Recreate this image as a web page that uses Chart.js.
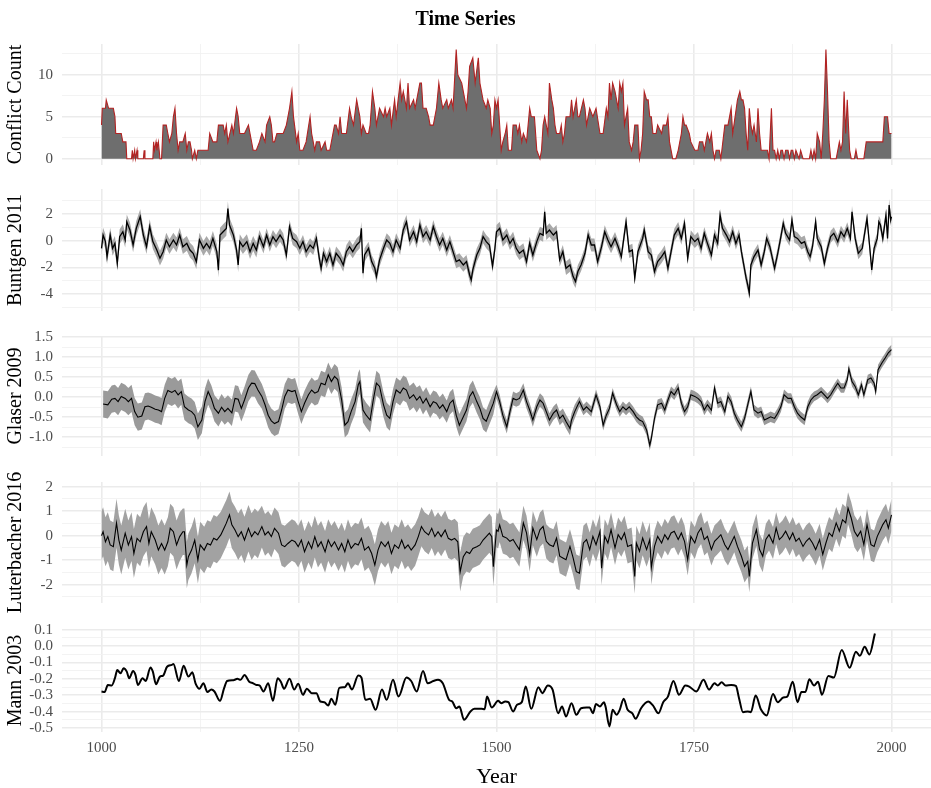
<!DOCTYPE html>
<html>
<head>
<meta charset="utf-8">
<script src="https://cdn.jsdelivr.net/npm/chart.js@4"></script>
<style>
	body { margin: 0; background: #fff; }
	#wrap { position: relative; width: 931px; height: 788px; }
	canvas { position: absolute; left: 0; }
</style>
</head>
<body>
<div id="wrap">
	<canvas id="conflict" width="931" height="175" style="top:0px"></canvas>
	<canvas id="buntgen" width="931" height="142" style="top:179px"></canvas>
	<canvas id="glaser" width="931" height="140" style="top:326px"></canvas>
	<canvas id="luterbacher" width="931" height="141" style="top:472px"></canvas>
	<canvas id="mann" width="931" height="169" style="top:619px"></canvas>
</div>
<script>
// [year, value] pairs
const conflict = [[1000,4],[1001,6],[1005,6],[1006,7],[1009,6],[1015,6],[1017,5],[1018,3],[1025,3],[1027,2],[1031,2],[1032,0],[1038,0],[1039,1],[1040,0],[1042,1],[1043,0],[1045,1],[1046,0],[1053,0],[1054,1],[1055,0],[1065,0],[1066,2],[1067,1],[1069,2],[1070,1],[1072,2],[1074,0],[1076,0],[1078,4],[1082,4],[1084,3],[1086,2],[1089,3],[1091,5],[1093,6],[1095,3],[1097,1],[1099,2],[1103,2],[1106,3],[1108,1],[1110,2],[1112,2],[1114,1],[1115,0],[1118,1],[1120,0],[1122,1],[1135,1],[1137,3],[1141,2],[1146,2],[1148,4],[1154,4],[1156,3],[1158,4],[1160,2],[1165,4],[1167,3],[1171,6],[1173,5],[1175,3],[1181,3],[1186,4],[1188,3],[1192,1],[1196,1],[1200,2],[1203,3],[1207,2],[1209,4],[1213,5],[1215,4],[1217,2],[1219,2],[1222,3],[1230,3],[1234,4],[1238,6],[1241,8],[1243,5],[1247,2],[1249,3],[1251,1],[1255,1],[1259,2],[1264,5],[1266,3],[1268,2],[1270,1],[1272,2],[1276,2],[1278,1],[1283,2],[1285,1],[1289,1],[1291,2],[1295,4],[1297,4],[1300,3],[1302,5],[1304,3],[1310,3],[1314,6],[1316,5],[1319,4],[1323,7],[1325,6],[1327,5],[1329,3],[1331,4],[1335,3],[1338,3],[1340,4],[1343,8],[1346,6],[1348,4],[1352,6],[1357,5],[1359,6],[1361,5],[1365,6],[1367,4],[1371,7],[1373,5],[1378,9],[1380,7],[1382,8],[1386,6],[1388,9],[1390,6],[1395,7],[1397,6],[1403,9],[1405,9],[1407,6],[1411,6],[1414,5],[1416,4],[1420,4],[1424,6],[1427,9],[1430,7],[1432,6],[1437,7],[1439,6],[1443,7],[1445,6],[1449,13],[1451,10],[1456,9],[1460,7],[1462,6],[1464,8],[1466,11],[1470,12],[1473,9],[1477,12],[1479,9],[1483,7],[1487,6],[1489,7],[1492,6],[1494,3],[1496,4],[1498,7],[1500,6],[1502,7],[1504,4],[1506,1],[1508,2],[1511,3],[1513,4],[1515,1],[1519,1],[1521,4],[1525,4],[1527,3],[1529,4],[1532,2],[1534,3],[1538,2],[1542,6],[1544,5],[1548,5],[1551,1],[1555,0],[1557,1],[1559,4],[1561,5],[1565,3],[1567,9],[1570,7],[1572,6],[1574,4],[1576,3],[1580,3],[1582,4],[1584,2],[1586,3],[1588,5],[1593,5],[1595,7],[1597,5],[1601,7],[1603,5],[1605,5],[1610,7],[1612,6],[1614,4],[1618,6],[1622,5],[1626,6],[1631,3],[1635,3],[1639,6],[1641,5],[1643,9],[1645,7],[1647,9],[1650,8],[1652,7],[1654,6],[1656,9],[1658,8],[1660,9],[1662,4],[1666,6],[1668,2],[1671,1],[1673,2],[1675,4],[1679,4],[1681,0],[1683,1],[1685,3],[1687,8],[1690,7],[1692,7],[1694,5],[1696,5],[1698,3],[1702,3],[1704,4],[1709,3],[1711,4],[1715,4],[1717,5],[1719,2],[1721,1],[1723,0],[1727,0],[1730,1],[1732,2],[1734,3],[1736,5],[1738,4],[1740,4],[1744,3],[1746,2],[1751,1],[1755,1],[1757,2],[1761,2],[1763,1],[1767,3],[1770,2],[1772,3],[1774,1],[1776,0],[1778,1],[1782,1],[1784,0],[1789,4],[1793,4],[1797,6],[1799,3],[1805,7],[1808,8],[1810,7],[1812,7],[1814,6],[1816,3],[1818,1],[1820,6],[1822,4],[1824,3],[1826,4],[1829,2],[1831,6],[1833,3],[1835,1],[1843,1],[1845,0],[1848,6],[1850,1],[1852,1],[1854,0],[1856,1],[1858,0],[1860,1],[1862,1],[1864,0],[1866,1],[1869,1],[1871,0],[1873,1],[1875,1],[1877,0],[1879,1],[1883,0],[1885,1],[1888,0],[1896,0],[1898,1],[1900,0],[1902,1],[1904,0],[1906,3],[1909,2],[1911,0],[1913,3],[1915,7],[1917,13],[1919,8],[1921,2],[1923,0],[1930,0],[1932,1],[1934,2],[1936,1],[1938,2],[1940,8],[1942,3],[1944,7],[1947,1],[1949,0],[1953,0],[1955,1],[1957,0],[1965,0],[1968,2],[1989,2],[1991,5],[1995,5],[1997,3],[2000,3]]

const buntgen = [[1000,-0.57],[1002,0.42],[1005,-0.07],[1007,-1.2],[1011,0.42],[1014,-0.57],[1017,-0.2],[1020,-1.7],[1023,0.3],[1027,0.67],[1030,0.05],[1032,1.41],[1036,0.8],[1040,-0.32],[1044,0.92],[1049,1.8],[1053,0.42],[1057,-0.45],[1061,1.05],[1065,-0.07],[1070,-0.7],[1074,-1.31],[1078,-0.82],[1082,0.05],[1086,-0.45],[1091,0.05],[1095,-0.32],[1099,0.42],[1103,-0.45],[1108,-0.2],[1112,-0.7],[1116,-0.94],[1120,-1.56],[1124,0.05],[1129,-0.57],[1133,-0.2],[1137,-0.57],[1141,0.17],[1146,-0.82],[1148,-2.2],[1150,0.42],[1154,0.67],[1158,0.92],[1160,2.4],[1162,1.17],[1167,0.42],[1171,-0.7],[1173,-1.81],[1175,-0.07],[1179,-0.45],[1184,-0.07],[1188,-0.82],[1192,-0.2],[1196,-0.7],[1200,0.3],[1205,-0.45],[1209,0.42],[1213,-0.32],[1217,0.3],[1221,-0.07],[1226,0.42],[1230,0.05],[1234,-1.07],[1238,1.05],[1242,0.17],[1247,-0.07],[1251,-0.57],[1255,-0.07],[1259,-0.82],[1264,-0.32],[1268,-0.57],[1272,0.17],[1276,-1.43],[1278,-2.06],[1281,-0.94],[1285,-1.56],[1289,-0.94],[1293,-1.81],[1297,-0.94],[1302,-1.31],[1306,-1.81],[1310,-0.82],[1314,-0.45],[1318,-0.82],[1323,-0.32],[1327,-0.07],[1329,0.92],[1331,-2.43],[1333,-1.07],[1338,-0.57],[1342,-1.56],[1346,-2.06],[1348,-2.68],[1352,-1.43],[1357,-0.57],[1361,0.05],[1365,-0.2],[1369,-0.82],[1373,0.05],[1378,-0.57],[1382,0.8],[1386,1.41],[1390,0.05],[1395,0.67],[1399,-0.07],[1403,1.17],[1407,0.3],[1411,0.67],[1416,0.05],[1420,1.05],[1424,0.3],[1428,-0.32],[1432,0.17],[1437,-0.7],[1441,-0.07],[1445,-0.82],[1449,-1.56],[1453,-1.43],[1458,-1.81],[1462,-1.56],[1466,-2.56],[1468,-2.93],[1470,-2.18],[1475,-1.07],[1479,-0.57],[1483,0.3],[1487,-0.07],[1491,-0.32],[1495,-1.9],[1498,-0.57],[1500,0.67],[1504,0.92],[1508,0.05],[1513,0.42],[1517,-0.2],[1521,0.17],[1525,-0.57],[1529,-0.94],[1534,-0.7],[1538,-1.56],[1542,-0.2],[1546,-1.07],[1551,-0.07],[1555,0.55],[1559,0.42],[1561,2.16],[1563,0.55],[1567,0.8],[1572,0.42],[1576,0.67],[1580,-1.43],[1584,-0.82],[1588,-2.06],[1593,-1.81],[1597,-2.68],[1600,-3.05],[1603,-2.3],[1607,-1.81],[1612,-0.94],[1616,0.42],[1620,-0.32],[1624,-0.32],[1628,-1.56],[1633,-0.45],[1637,0.67],[1641,0.05],[1645,-0.45],[1650,0.17],[1654,-0.45],[1658,-1.19],[1662,0.55],[1664,1.41],[1668,-0.82],[1672,-0.7],[1675,-2.8],[1679,-0.82],[1685,0.17],[1687,0.8],[1692,-0.82],[1696,-1.07],[1700,-2.3],[1704,-1.56],[1709,-1.19],[1713,-0.82],[1717,-2.06],[1721,-0.82],[1725,0.42],[1730,0.92],[1734,0.17],[1738,1.29],[1742,-1.31],[1746,0.3],[1751,-0.07],[1755,0.17],[1759,-0.57],[1763,0.55],[1767,-0.2],[1772,-1.07],[1776,0.42],[1780,-0.2],[1783,1.91],[1786,0.92],[1791,0.42],[1795,-0.07],[1799,0.67],[1803,-0.2],[1807,0.42],[1810,-0.82],[1813,-1.81],[1816,-2.8],[1818,-3.3],[1820,-3.92],[1822,-1.81],[1826,-1.19],[1831,-0.7],[1835,-1.81],[1839,-0.82],[1842,0.17],[1846,-0.45],[1852,-2.06],[1856,-0.94],[1860,0.3],[1863,1.29],[1866,0.55],[1871,0.05],[1874,1.54],[1877,0.3],[1881,0.17],[1886,-0.2],[1890,-0.07],[1894,-0.82],[1897,-1.19],[1900,-0.45],[1904,1.41],[1906,0.17],[1911,-0.45],[1915,-1.7],[1919,-0.57],[1923,0.3],[1927,0.55],[1932,-0.07],[1936,0.67],[1940,0.3],[1944,0.92],[1948,0.17],[1950,2.16],[1954,0.17],[1958,-0.94],[1963,-0.57],[1969,1.66],[1972,-0.2],[1975,-2.18],[1978,-0.57],[1982,0.17],[1984,1.41],[1986,1.17],[1989,0.17],[1993,1.91],[1995,0.17],[1997,2.66],[1999,1.54],[2000,1.79]]

const glaser = [[1002,-0.17],[1008,-0.19],[1013,-0.05],[1017,-0.03],[1021,-0.11],[1025,0.02],[1030,-0.03],[1034,-0.11],[1038,-0.03],[1042,-0.36],[1046,-0.5],[1051,-0.47],[1055,-0.24],[1059,-0.22],[1063,-0.25],[1068,-0.3],[1072,-0.32],[1076,-0.36],[1080,-0.03],[1084,0.17],[1089,0.12],[1093,0.17],[1097,0.06],[1101,0.14],[1105,-0.24],[1110,-0.32],[1114,-0.36],[1118,-0.45],[1122,-0.74],[1127,-0.57],[1131,-0.11],[1135,0.14],[1139,-0.03],[1143,-0.28],[1148,-0.4],[1152,-0.25],[1156,-0.36],[1160,-0.28],[1165,-0.39],[1169,-0.03],[1173,-0.05],[1177,-0.28],[1181,-0.07],[1186,0.23],[1190,0.35],[1194,0.34],[1198,0.18],[1203,0.02],[1207,-0.19],[1211,-0.45],[1215,-0.59],[1219,-0.66],[1224,-0.61],[1228,-0.32],[1232,0.02],[1236,0.18],[1241,0.14],[1245,0.17],[1249,-0.11],[1253,-0.36],[1257,-0.15],[1262,0.06],[1266,0.18],[1270,0.1],[1274,0.14],[1278,0.35],[1283,0.31],[1287,0.56],[1291,0.39],[1295,0.52],[1299,0.44],[1304,-0.07],[1308,-0.7],[1312,-0.61],[1316,-0.36],[1321,-0.11],[1325,0.31],[1327,0.39],[1331,-0.32],[1335,-0.45],[1340,-0.57],[1344,-0.07],[1348,0.35],[1352,0.27],[1357,-0.19],[1361,-0.45],[1365,-0.53],[1369,-0.11],[1373,0.18],[1378,0.1],[1382,0.23],[1386,0.18],[1390,-0.03],[1395,0.06],[1399,-0.07],[1403,0.02],[1407,-0.15],[1411,-0.03],[1416,-0.24],[1420,-0.11],[1424,-0.15],[1428,-0.28],[1432,-0.19],[1437,-0.36],[1441,-0.15],[1445,-0.07],[1449,-0.45],[1453,-0.7],[1458,-0.49],[1462,-0.32],[1466,0.02],[1470,0.14],[1475,-0.11],[1479,-0.28],[1483,-0.53],[1487,-0.6],[1491,-0.4],[1496,-0.15],[1500,0.14],[1504,-0.11],[1508,-0.45],[1513,-0.74],[1517,-0.36],[1521,-0.03],[1525,-0.07],[1529,-0.03],[1534,0.18],[1538,-0.11],[1542,-0.32],[1546,-0.57],[1551,-0.24],[1555,-0.07],[1559,-0.15],[1563,-0.36],[1567,-0.57],[1572,-0.4],[1576,-0.32],[1580,-0.53],[1584,-0.45],[1588,-0.61],[1593,-0.78],[1595,-0.57],[1599,-0.36],[1605,-0.11],[1610,-0.32],[1614,-0.24],[1620,-0.36],[1626,0.06],[1631,-0.24],[1635,-0.7],[1639,-0.45],[1643,-0.28],[1647,0.1],[1652,-0.19],[1656,-0.36],[1660,-0.24],[1664,-0.32],[1668,-0.24],[1673,-0.36],[1677,-0.49],[1681,-0.57],[1685,-0.61],[1690,-0.82],[1694,-1.2],[1696,-1.03],[1700,-0.53],[1704,-0.19],[1709,-0.15],[1713,-0.32],[1717,-0.07],[1721,0.14],[1725,0.06],[1730,0.23],[1734,-0.15],[1738,-0.36],[1742,-0.24],[1746,0.06],[1751,0.02],[1755,-0.03],[1759,-0.11],[1763,-0.32],[1767,-0.19],[1772,-0.32],[1776,0.23],[1780,-0.15],[1784,-0.11],[1789,-0.36],[1793,0.02],[1797,-0.11],[1801,-0.4],[1805,-0.57],[1810,-0.74],[1814,-0.53],[1818,-0.19],[1822,0.14],[1826,-0.32],[1831,-0.4],[1835,-0.36],[1839,-0.57],[1843,-0.53],[1847,-0.49],[1852,-0.53],[1856,-0.4],[1860,-0.24],[1864,0.06],[1869,-0.03],[1873,-0.03],[1877,-0.24],[1881,-0.4],[1885,-0.49],[1890,-0.57],[1894,-0.24],[1898,-0.07],[1902,0.02],[1906,0.06],[1911,0.14],[1915,0.06],[1919,-0.03],[1923,0.06],[1928,0.23],[1932,0.35],[1936,0.23],[1940,0.23],[1944,0.44],[1946,0.71],[1950,0.39],[1954,0.27],[1958,0.06],[1962,0.31],[1965,0.06],[1970,0.44],[1974,0.48],[1978,0.35],[1980,0.14],[1983,0.69],[1988,0.86],[1992,0.98],[1996,1.11],[2000,1.19]]

const luterbacher = [[1000,0],[1002,0.16],[1005,-0.25],[1008,-0.04],[1011,-0.38],[1015,-0.45],[1019,0.51],[1022,-0.18],[1025,-0.59],[1030,0.1],[1034,-0.38],[1038,-0.04],[1041,-0.73],[1045,-0.11],[1049,-0.25],[1053,0.16],[1057,0.37],[1060,-0.32],[1063,0.16],[1068,-0.18],[1072,-0.59],[1076,-0.32],[1080,-0.59],[1084,-0.25],[1087,0.3],[1091,0.16],[1095,-0.38],[1099,-0.04],[1103,0.16],[1105,0.16],[1108,-1.2],[1110,-0.86],[1114,-0.59],[1118,-0.18],[1122,-1.0],[1125,-0.38],[1130,-0.59],[1134,-0.32],[1138,-0.38],[1142,-0.11],[1146,-0.18],[1151,0.03],[1155,0.3],[1158,0.51],[1162,0.85],[1165,0.44],[1169,0.23],[1173,-0.04],[1177,0.16],[1181,-0.18],[1186,0.3],[1190,-0.04],[1194,0.16],[1198,0.03],[1203,0.37],[1207,0.03],[1211,0.16],[1215,-0.04],[1219,0.3],[1224,0.1],[1228,-0.38],[1232,-0.45],[1236,-0.32],[1241,-0.18],[1245,-0.25],[1249,-0.45],[1253,-0.18],[1257,-0.66],[1262,-0.25],[1266,-0.52],[1270,-0.04],[1274,-0.45],[1278,-0.25],[1283,-0.66],[1287,-0.18],[1291,-0.45],[1295,-0.25],[1300,-0.59],[1304,-0.32],[1308,-0.66],[1312,-0.18],[1316,-0.52],[1321,-0.32],[1325,-0.38],[1329,-0.11],[1333,-0.59],[1338,-0.45],[1342,-0.73],[1346,-1.2],[1350,-0.59],[1354,-0.25],[1359,-0.45],[1363,-0.25],[1367,-0.73],[1371,-0.38],[1376,-0.52],[1380,-0.18],[1384,-0.52],[1388,-0.38],[1392,-0.59],[1397,-0.38],[1401,-0.04],[1405,0.37],[1409,0.16],[1414,0.03],[1418,0.3],[1422,-0.04],[1426,0.16],[1430,-0.04],[1435,0.23],[1439,-0.11],[1443,-0.18],[1447,-0.11],[1451,-0.25],[1454,-1.48],[1458,-0.86],[1462,-0.66],[1466,-0.73],[1470,-0.52],[1475,-0.45],[1479,-0.38],[1483,-0.18],[1487,-0.04],[1491,0.1],[1494,-0.04],[1496,-1.27],[1500,0.23],[1502,0.18],[1504,0.44],[1508,-0.03],[1513,-0.1],[1517,-0.23],[1521,-0.16],[1525,-0.37],[1529,-0.57],[1534,0.52],[1538,0.11],[1542,-0.77],[1546,0.31],[1551,-0.16],[1555,0.24],[1559,0.38],[1563,-0.23],[1567,-0.37],[1572,-0.44],[1576,-0.1],[1580,-0.84],[1584,-0.91],[1588,-0.98],[1593,-0.44],[1597,-0.91],[1601,-1.47],[1605,-1.53],[1610,-0.3],[1614,-0.16],[1618,-0.57],[1622,-0.03],[1626,-0.37],[1631,0.18],[1633,-1.33],[1637,-0.03],[1641,-0.3],[1645,0.24],[1650,-0.5],[1654,0.04],[1658,-0.16],[1662,0.11],[1666,-0.44],[1671,-0.37],[1675,-1.67],[1677,-0.3],[1681,-0.64],[1685,-0.1],[1690,-0.57],[1694,-0.16],[1696,-1.3],[1700,-0.44],[1704,-0.03],[1709,-0.3],[1713,0.04],[1717,-0.16],[1721,0.11],[1725,0.18],[1730,-0.16],[1734,0.11],[1738,-0.23],[1742,-0.98],[1746,-0.03],[1751,-0.3],[1755,0.11],[1759,0.31],[1763,-0.16],[1767,-0.03],[1772,-0.57],[1776,-0.23],[1780,-0.1],[1784,0.04],[1789,-0.37],[1793,-0.57],[1797,-0.3],[1801,-0.03],[1805,-0.44],[1810,-0.84],[1814,-1.26],[1818,-1.05],[1820,-1.67],[1824,-0.3],[1829,0.24],[1833,-0.57],[1837,-0.84],[1841,-0.16],[1845,0.04],[1850,-0.3],[1854,0.31],[1858,-0.16],[1862,-0.03],[1866,0.18],[1871,-0.16],[1875,0.11],[1879,-0.23],[1883,-0.1],[1888,-0.44],[1892,-0.23],[1896,-0.1],[1900,-0.3],[1904,-0.57],[1909,-0.16],[1913,-0.77],[1917,-0.3],[1921,0.11],[1925,-0.03],[1930,0.52],[1934,0.18],[1938,0.65],[1942,0.52],[1945,1.12],[1949,0.72],[1953,0.18],[1957,-0.03],[1961,0.18],[1965,-0.37],[1969,0.45],[1974,-0.37],[1978,-0.44],[1982,-0.03],[1986,0.24],[1989,0.45],[1993,0.65],[1996,0.31],[2000,0.85]]

const mann = [[1000,-0.277],[1004,-0.28],[1008,-0.237],[1013,-0.24],[1017,-0.196],[1020,-0.146],[1024,-0.166],[1028,-0.136],[1032,-0.156],[1035,-0.196],[1040,-0.152],[1043,-0.176],[1046,-0.237],[1052,-0.196],[1056,-0.213],[1062,-0.13],[1065,-0.156],[1069,-0.233],[1074,-0.186],[1078,-0.18],[1083,-0.126],[1089,-0.115],[1091,-0.11],[1098,-0.213],[1104,-0.12],[1110,-0.186],[1115,-0.16],[1119,-0.227],[1124,-0.26],[1129,-0.227],[1134,-0.28],[1139,-0.265],[1143,-0.277],[1150,-0.334],[1155,-0.26],[1159,-0.213],[1167,-0.208],[1172,-0.2],[1176,-0.206],[1181,-0.176],[1187,-0.217],[1192,-0.227],[1196,-0.237],[1200,-0.24],[1205,-0.277],[1211,-0.227],[1217,-0.334],[1223,-0.196],[1227,-0.217],[1231,-0.26],[1238,-0.2],[1244,-0.265],[1249,-0.23],[1255,-0.297],[1260,-0.26],[1266,-0.287],[1272,-0.287],[1277,-0.338],[1282,-0.342],[1287,-0.362],[1291,-0.322],[1296,-0.358],[1301,-0.255],[1308,-0.251],[1312,-0.227],[1317,-0.265],[1325,-0.18],[1329,-0.192],[1334,-0.328],[1340,-0.322],[1347,-0.389],[1355,-0.265],[1361,-0.328],[1369,-0.206],[1376,-0.308],[1386,-0.192],[1392,-0.213],[1399,-0.277],[1407,-0.152],[1413,-0.227],[1420,-0.213],[1426,-0.206],[1432,-0.227],[1440,-0.328],[1444,-0.338],[1449,-0.379],[1453,-0.369],[1459,-0.45],[1467,-0.399],[1472,-0.383],[1481,-0.383],[1485,-0.385],[1488,-0.308],[1494,-0.375],[1502,-0.334],[1506,-0.348],[1511,-0.338],[1515,-0.342],[1521,-0.399],[1526,-0.358],[1532,-0.342],[1537,-0.247],[1544,-0.383],[1553,-0.251],[1558,-0.287],[1565,-0.24],[1571,-0.265],[1578,-0.41],[1583,-0.369],[1588,-0.43],[1595,-0.348],[1601,-0.419],[1607,-0.379],[1614,-0.375],[1618,-0.375],[1622,-0.41],[1626,-0.354],[1631,-0.369],[1636,-0.342],[1638,-0.369],[1643,-0.49],[1647,-0.389],[1652,-0.419],[1656,-0.389],[1661,-0.322],[1666,-0.389],[1672,-0.41],[1676,-0.443],[1683,-0.379],[1692,-0.338],[1698,-0.362],[1705,-0.41],[1711,-0.342],[1717,-0.308],[1724,-0.213],[1731,-0.297],[1739,-0.241],[1744,-0.247],[1753,-0.277],[1762,-0.206],[1769,-0.265],[1776,-0.227],[1780,-0.241],[1785,-0.221],[1790,-0.241],[1797,-0.237],[1803,-0.243],[1807,-0.318],[1812,-0.403],[1818,-0.399],[1822,-0.403],[1828,-0.302],[1835,-0.389],[1842,-0.423],[1850,-0.293],[1856,-0.342],[1863,-0.314],[1868,-0.308],[1875,-0.217],[1881,-0.342],[1886,-0.28],[1891,-0.28],[1896,-0.202],[1902,-0.241],[1907,-0.217],[1912,-0.297],[1920,-0.182],[1927,-0.192],[1937,-0.024],[1947,-0.132],[1955,-0.034],[1960,-0.059],[1966,-0.004],[1972,-0.051],[1979,0.077]]

// half-width of the grey uncertainty band, one value per century (1000s ... 2000)
const buntgenSpread = [0.55, 0.55, 0.5, 0.5, 0.5, 0.5, 0.48, 0.48, 0.45, 0.45, 0.45]
const glaserSpread = [0.34, 0.33, 0.31, 0.31, 0.28, 0.17, 0.13, 0.13, 0.13, 0.12, 0.12]
const luterbacherSpread = [1.0, 0.95, 0.85, 0.85, 0.8, 0.7, 0.7, 0.65, 0.65, 0.65, 0.65]

const xMajor = [1000, 1250, 1500, 1750, 2000]
const xMinor = [1125, 1375, 1625, 1875]

const serif = '"Liberation Serif", "Times New Roman", serif'
const tickGrey = '#4d4d4d'

const toPoints = (pairs) => pairs.map(([x, y]) => ({ x, y }))
const band = (pairs, spread, sign) =>
	pairs.map(([x, y]) => ({ x, y: y + sign * spread[Math.floor((x - 1000) / 100)] }))

const isMultiple = (v, step) => Math.abs(v / step - Math.round(v / step)) < 1e-6

const yGrid = (min, max, step) => {
	const out = []
	for (let i = Math.ceil(min / step - 1e-9); i * step <= max + 1e-9; i++) {
		out.push({ value: +(i * step).toFixed(6) })
	}
	return out
}

const panel = (id, opts) => {
	const { datasets, title, yTitle, min, max, major, decimals, showX, xHeight, pad } = opts
	return new Chart(document.getElementById(id), {
		type: 'line',
		data: { datasets },
		options: {
			responsive: false,
			animation: false,
			devicePixelRatio: 1,
			layout: { padding: pad },
			elements: { point: { radius: 0 } },
			plugins: {
				legend: { display: false },
				tooltip: { enabled: false },
				title: {
					display: !!title,
					text: title,
					color: '#000',
					font: { family: serif, size: 20, weight: 'bold' },
					padding: { top: 8, bottom: 12 },
				},
			},
			scales: {
				x: {
					type: 'linear',
					min: 950,
					max: 2050,
					afterBuildTicks: (axis) => {
						axis.ticks = [...xMajor, ...xMinor].sort((a, b) => a - b).map((v) => ({ value: v }))
					},
					afterFit: (axis) => {
						axis.height = xHeight
						axis.paddingLeft = 0
						axis.paddingRight = 0
					},
					ticks: {
						display: showX,
						autoSkip: false,
						maxRotation: 0,
						padding: 7,
						color: tickGrey,
						font: { family: serif, size: 15 },
						callback: (v) => (xMajor.includes(v) ? String(v) : ''),
					},
					grid: {
						drawTicks: false,
						color: (c) => (xMajor.includes(c.tick.value) ? '#ebebeb' : '#f2f2f2'),
						lineWidth: (c) => (xMajor.includes(c.tick.value) ? 1.6 : 0.9),
					},
					border: { display: false },
					title: {
						display: showX,
						text: 'Year',
						color: '#000',
						font: { family: serif, size: 22, lineHeight: 1 },
						padding: { top: 0, bottom: 0 },
					},
				},
				y: {
					min,
					max,
					afterBuildTicks: (axis) => {
						axis.ticks = yGrid(min, max, major / 2)
					},
					afterFit: (axis) => {
						axis.width = 62
						axis.paddingTop = 0
						axis.paddingBottom = 0
					},
					ticks: {
						autoSkip: false,
						padding: 9,
						color: tickGrey,
						font: { family: serif, size: 15 },
						callback: (v) => (isMultiple(v, major) ? v.toFixed(decimals) : ''),
					},
					grid: {
						drawTicks: false,
						color: (c) => (isMultiple(c.tick.value, major) ? '#ebebeb' : '#f2f2f2'),
						lineWidth: (c) => (isMultiple(c.tick.value, major) ? 1.6 : 0.9),
					},
					border: { display: false },
					title: {
						display: true,
						text: yTitle,
						color: '#000',
						font: { family: serif, size: 20 },
						padding: { top: 4, bottom: 0 },
					},
				},
			},
		},
	})
}

const ribbonSets = (pairs, spread, color, width) => [
	{
		data: toPoints(pairs),
		borderColor: '#000',
		borderWidth: width,
		tension: 0,
		fill: false,
	},
	{
		data: band(pairs, spread, 1),
		borderWidth: 0,
		backgroundColor: color,
		tension: 0,
		fill: '+1',
	},
	{
		data: band(pairs, spread, -1),
		borderWidth: 0,
		tension: 0,
		fill: false,
	},
]

panel('conflict', {
	title: 'Time Series',
	yTitle: 'Conflict Count',
	min: -0.75,
	max: 13.65,
	major: 5,
	decimals: 0,
	showX: false,
	xHeight: 0,
	pad: { top: 0, bottom: 10, left: 0, right: 0 },
	datasets: [
		{
			data: toPoints(conflict),
			borderColor: '#b22222',
			borderWidth: 1.1,
			backgroundColor: '#6e6e6e',
			fill: 'origin',
			tension: 0,
		},
	],
})

panel('buntgen', {
	yTitle: 'Buntgen 2011',
	min: -5.25,
	max: 3.86,
	major: 2,
	decimals: 0,
	showX: false,
	xHeight: 0,
	pad: { top: 10, bottom: 10, left: 0, right: 0 },
	datasets: ribbonSets(buntgen, buntgenSpread, '#a9a9a9', 1.3),
})

panel('glaser', {
	yTitle: 'Glaser 2009',
	min: -1.47,
	max: 1.53,
	major: 0.5,
	decimals: 1,
	showX: false,
	xHeight: 0,
	pad: { top: 10, bottom: 10, left: 0, right: 0 },
	datasets: ribbonSets(glaser, glaserSpread, '#9a9a9a', 1.1),
})

panel('luterbacher', {
	yTitle: 'Luterbacher 2016',
	min: -2.75,
	max: 2.19,
	major: 1,
	decimals: 0,
	showX: false,
	xHeight: 0,
	pad: { top: 10, bottom: 10, left: 0, right: 0 },
	datasets: ribbonSets(luterbacher, luterbacherSpread, '#a2a2a2', 1.1),
})

panel('mann', {
	yTitle: 'Mann 2003',
	min: -0.524,
	max: 0.104,
	major: 0.1,
	decimals: 1,
	showX: true,
	xHeight: 56,
	pad: { top: 10, bottom: 0, left: 0, right: 0 },
	datasets: [
		{
			data: toPoints(mann),
			borderColor: '#000',
			borderWidth: 2,
			cubicInterpolationMode: 'monotone',
			fill: false,
		},
	],
})
</script>
</body>
</html>
